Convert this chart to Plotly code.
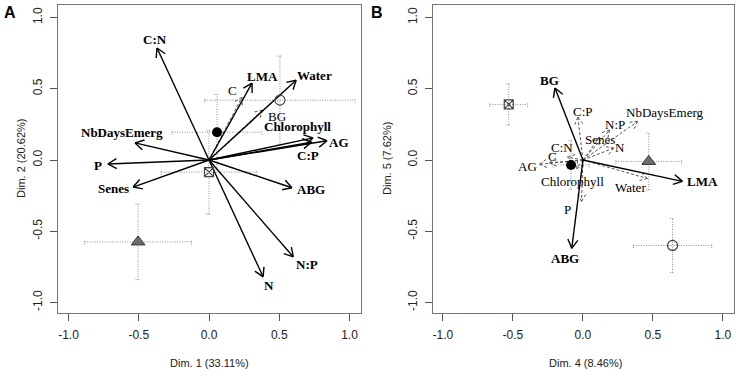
import math
import plotly.graph_objects as go

# ---------------- data ----------------
# Panel A (Dim 1 vs Dim 2): variable loadings
a_vars = ["C:N", "LMA", "Water", "C", "BG", "Chlorophyll", "AG", "C:P",
          "NbDaysEmerg", "P", "Senes", "ABG", "N:P", "N"]
a_x = [-0.37, 0.306, 0.62, 0.234, 0.38, 0.74, 0.84, 0.73, -0.527, -0.72, -0.54, 0.59, 0.60, 0.385]
a_y = [0.786, 0.54, 0.56, 0.44, 0.35, 0.155, 0.135, 0.125, 0.12, -0.028, -0.19, -0.195, -0.68, -0.82]
a_well = [1, 1, 1, 0, 0, 1, 1, 1, 1, 1, 1, 1, 1, 1]

# Panel A group means with spread
a_grp = ["open", "filled", "square", "triangle"]
a_gx = [0.505, 0.057, 0.0, -0.505]
a_gy = [0.42, 0.195, -0.085, -0.575]
a_gex = [0.535, 0.32, 0.34, 0.38]
a_gey = [0.31, 0.265, 0.295, 0.265]

# Panel B (Dim 4 vs Dim 5)
b_vars = ["BG", "LMA", "ABG", "C:P", "N:P", "NbDaysEmerg", "Senes", "N",
          "C:N", "C", "AG", "Chlorophyll", "Water", "P"]
b_x = [-0.2, 0.71, -0.08, -0.036, 0.19, 0.39, 0.12, 0.22, -0.11, -0.24, -0.31, -0.045, 0.46, -0.01]
b_y = [0.505, -0.15, -0.62, 0.30, 0.21, 0.27, 0.16, 0.084, 0.02, -0.02, -0.03, -0.06, -0.13, -0.29]
b_well = [1, 1, 1, 0, 0, 0, 0, 0, 0, 0, 0, 0, 0, 0]

b_grp = ["square", "filled", "triangle", "open"]
b_gx = [-0.53, -0.085, 0.47, 0.64]
b_gy = [0.39, -0.035, -0.01, -0.6]
b_gex = [0.135, 0.13, 0.235, 0.28]
b_gey = [0.145, 0.17, 0.2, 0.19]

tick_vals = [-1.0, -0.5, 0.0, 0.5, 1.0]
tick_text = ["-1.0", "-0.5", "0.0", "0.5", "1.0"]

# ---------------- layout / style ----------------
W, H = 737, 371
A_BOX = dict(x0=58, x1=361)
B_BOX = dict(x0=433, x1=734)
Y0_PX, Y1_PX = 5, 313
A_XR = [-1.075, 1.082]
B_XR = [-1.071, 1.079]
YR = [-1.074, 1.088]

# label offsets in pixels (dx, dy up)
a_off = {"C:N": (-2, 9), "LMA": (11, 7), "Water": (18, 5), "C": (-9, 7), "BG": (15, -6),
         "Chlorophyll": (-15, 11), "AG": (12, -2), "C:P": (-4, -13), "NbDaysEmerg": (-13, 10),
         "P": (-10, -2), "Senes": (-20, -1), "ABG": (19, -2), "N:P": (14, -8), "N": (6, -9)}
b_off = {"BG": (-5, 8), "LMA": (20, 0), "ABG": (-7, -10), "C:P": (5, 6), "N:P": (5, 6),
         "NbDaysEmerg": (27, 9), "Senes": (0, -2), "N": (6, 1), "C:N": (-6, 10), "C": (3, 6),
         "AG": (-12, -2), "Chlorophyll": (-4, -13), "Water": (-17, -9), "P": (-14, -8)}

marker_style = {
    "open": dict(symbol="circle-open", size=10, color="#444", line=dict(width=1.2, color="#444")),
    "filled": dict(symbol="circle", size=10, color="black"),
    "square": dict(symbol="square-x-open", size=9, color="#444", line=dict(width=1.2, color="#444")),
    "triangle": dict(symbol="triangle-up", size=12, color="#6e6e6e", line=dict(width=1, color="#333")),
}

fig = go.Figure()

def px_scale(xr, box):
    sx = (box["x1"] - box["x0"]) / (xr[1] - xr[0])
    sy = (Y1_PX - Y0_PX) / (YR[1] - YR[0])
    return sx, sy

def add_panel(xs, ys, well, names, offs, gx, gy, gex, gey, grp, xref, yref, xr, box):
    sx, sy = px_scale(xr, box)
    # error bars (dotted)
    ex, ey = [], []
    cap = 2.5
    for x, y, dx, dy in zip(gx, gy, gex, gey):
        ex += [x - dx, x + dx, None, x - dx, x - dx, None, x + dx, x + dx, None]
        ey += [y, y, None, y - cap / sy, y + cap / sy, None, y - cap / sy, y + cap / sy, None]
        ex += [x, x, None, x - cap / sx, x + cap / sx, None, x - cap / sx, x + cap / sx, None]
        ey += [y - dy, y + dy, None, y - dy, y - dy, None, y + dy, y + dy, None]
    fig.add_trace(go.Scatter(x=ex, y=ey, mode="lines", xaxis=xref, yaxis=yref,
                             line=dict(color="#8a8a8a", width=1, dash="1px,1.5px"),
                             hoverinfo="skip", showlegend=False))
    # arrows
    for flag in (0, 1):
        lx, ly = [], []
        hl = 10.0
        for x, y, w in zip(xs, ys, well):
            if w != flag:
                continue
            lx += [0, x, None]
            ly += [0, y, None]
            th = math.atan2(y * sy, x * sx)
            for a in (math.radians(150), math.radians(-150)):
                lx += [x, x + hl * math.cos(th + a) / sx, None]
                ly += [y, y + hl * math.sin(th + a) / sy, None]
        if flag:
            line = dict(color="black", width=1.4)
        else:
            line = dict(color="#555", width=1, dash="3px,2px")
        fig.add_trace(go.Scatter(x=lx, y=ly, mode="lines", xaxis=xref, yaxis=yref, line=line,
                                 hoverinfo="skip", showlegend=False))
    # group markers
    for x, y, g in zip(gx, gy, grp):
        fig.add_trace(go.Scatter(x=[x], y=[y], mode="markers", xaxis=xref, yaxis=yref,
                                 marker=marker_style[g], hoverinfo="skip", showlegend=False))
    # labels
    for x, y, w, n in zip(xs, ys, well, names):
        dx, dy = offs[n]
        fig.add_annotation(x=x, y=y, xref=xref, yref=yref, text=("<b>%s</b>" % n) if w else n,
                           showarrow=False, xshift=dx, yshift=dy, xanchor="center", yanchor="middle",
                           font=dict(family="Liberation Serif", size=13, color="black"))

add_panel(a_x, a_y, a_well, a_vars, a_off, a_gx, a_gy, a_gex, a_gey, a_grp, "x", "y", A_XR, A_BOX)
add_panel(b_x, b_y, b_well, b_vars, b_off, b_gx, b_gy, b_gex, b_gey, b_grp, "x2", "y2", B_XR, B_BOX)

ydom = [1 - Y1_PX / H, 1 - Y0_PX / H]
axis_common = dict(showgrid=False, zeroline=False, showline=True, mirror=True, linecolor="#777",
                   linewidth=1.2, ticks="outside", ticklen=7, tickcolor="#555", tickwidth=1,
                   tickvals=tick_vals, ticktext=tick_text, ticklabelstandoff=3,
                   ticklabeloverflow="allow",
                   tickfont=dict(family="Liberation Sans", size=12, color="#222"))

fig.update_layout(
    width=W, height=H, margin=dict(l=0, r=0, t=0, b=0, autoexpand=False),
    paper_bgcolor="white", plot_bgcolor="white", showlegend=False,
    xaxis=dict(domain=[A_BOX["x0"] / W, A_BOX["x1"] / W], range=A_XR, anchor="y", **axis_common),
    yaxis=dict(domain=ydom, range=YR, anchor="x", tickangle=-90, **axis_common),
    xaxis2=dict(domain=[B_BOX["x0"] / W, B_BOX["x1"] / W], range=B_XR, anchor="y2", **axis_common),
    yaxis2=dict(domain=ydom, range=YR, anchor="x2", tickangle=-90, **axis_common),
)

title_font = dict(family="Liberation Sans", size=11, color="#222")
for txt, xp, yp, ang in [("Dim. 1 (33.11%)", 210, 363, 0), ("Dim. 2 (20.62%)", 21, 159, -90),
                         ("Dim. 4 (8.46%)", 585, 363, 0), ("Dim. 5 (7.62%)", 387, 159, -90)]:
    fig.add_annotation(x=xp / W, y=1 - yp / H, xref="paper", yref="paper", text=txt,
                       showarrow=False, textangle=ang, xanchor="center", yanchor="middle",
                       font=title_font)
for txt, xp in [("A", 10), ("B", 377)]:
    fig.add_annotation(x=xp / W, y=1 - 12 / H, xref="paper", yref="paper", text="<b>%s</b>" % txt,
                       showarrow=False, xanchor="center", yanchor="middle",
                       font=dict(family="Liberation Sans", size=16, color="black"))

fig.write_html("out.html", config={"displayModeBar": False},
               post_script="document.body.style.margin='0px';")
